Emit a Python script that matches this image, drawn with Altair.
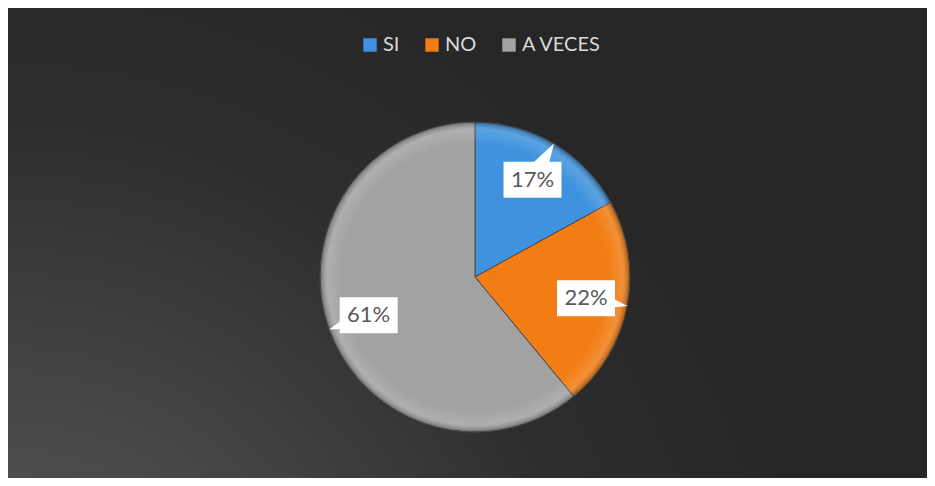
import altair as alt
import pandas as pd

categorias = ["SI", "NO", "A VECES"]
valores = [17, 22, 61]
etiquetas = ["17%", "22%", "61%"]
colores = ["#3f93de", "#f27d15", "#a2a2a2"]

W, H = 919, 470
CX, CY, R, RL = 467, 269, 155, 113
FONT = "Lato"

df = pd.DataFrame({
    "categoria": categorias,
    "valor": valores,
    "etiqueta": etiquetas,
    "orden": list(range(len(categorias))),
})

base = alt.Chart(df)
uno = pd.DataFrame({"k": [0]})

fondo = alt.Chart(uno).mark_rect(
    fill=alt.Gradient(
        gradient="radial",
        stops=[
            alt.GradientStop(color="#5e5e5e", offset=0),
            alt.GradientStop(color="#474747", offset=0.35),
            alt.GradientStop(color="#2e2e2e", offset=0.7),
            alt.GradientStop(color="#262626", offset=1),
        ],
        x1=0, y1=1, r1=0, x2=0, y2=1, r2=0.9,
    )
).encode(x=alt.value(0), x2=alt.value(W), y=alt.value(0), y2=alt.value(H))

pastel = base.mark_arc(radius=R, stroke="#4a4a4a", strokeWidth=1).encode(
    theta=alt.Theta("valor:Q", stack=True),
    order=alt.Order("orden:O"),
    color=alt.Color(
        "categoria:N",
        scale=alt.Scale(domain=categorias, range=colores),
        legend=alt.Legend(
            title=None,
            orient="none",
            legendX=352,
            legendY=27,
            direction="horizontal",
            symbolType="square",
            symbolSize=180,
            symbolStrokeWidth=0,
            labelFont=FONT,
            labelFontSize=20,
            labelColor="#d9d9d9",
            labelOffset=3,
            columnPadding=22,
            padding=0,
        ),
    ),
    x=alt.value(CX),
    y=alt.value(CY),
)

borde = alt.Chart(uno).mark_arc(
    radius=R, theta=0, theta2=6.2832,
    fill=alt.Gradient(
        gradient="radial",
        stops=[
            alt.GradientStop(color="rgba(255,255,255,0)", offset=0),
            alt.GradientStop(color="rgba(255,255,255,0)", offset=0.86),
            alt.GradientStop(color="rgba(255,255,255,0.14)", offset=0.95),
            alt.GradientStop(color="rgba(0,0,0,0.35)", offset=1),
        ],
        x1=0.5, y1=0.5, r1=0, x2=0.5, y2=0.5, r2=0.5,
    ),
).encode(x=alt.value(CX), y=alt.value(CY))

pos = base.transform_joinaggregate(total="sum(valor)").transform_window(
    acum="sum(valor)", sort=[alt.SortField("orden")], frame=[None, 0]
).transform_calculate(
    ang="(datum.acum - datum.valor/2) / datum.total * 2 * PI",
    grados="(datum.acum - datum.valor/2) / datum.total * 360",
).transform_calculate(
    px=f"{CX} + {RL} * sin(datum.ang)",
    py=f"{CY} - {RL} * cos(datum.ang)",
).transform_calculate(
    bx1="datum.px - 29", bx2="datum.px + 29",
    by1="datum.py - 18", by2="datum.py + 18",
)

cola = pos.mark_point(
    shape="M -0.3 0 L 0 -1 L 0.3 0 Z", filled=True, fill="white", opacity=1, strokeWidth=0
).encode(
    x=alt.X("px:Q", scale=None),
    y=alt.Y("py:Q", scale=None),
    angle=alt.Angle("grados:Q", scale=None),
    size=alt.value(7056),
)

caja = pos.mark_rect(fill="white").encode(
    x=alt.X("bx1:Q", scale=None), x2="bx2:Q",
    y=alt.Y("by1:Q", scale=None), y2="by2:Q",
)

texto = pos.mark_text(font=FONT, fontSize=22, color="#595959", baseline="middle", align="center").encode(
    x=alt.X("px:Q", scale=None),
    y=alt.Y("py:Q", scale=None),
    text="etiqueta:N",
)

chart = alt.layer(fondo, pastel, borde, cola, caja, texto).properties(
    width=W, height=H, autosize=alt.AutoSizeParams(type="none"), padding=0,
    background="white",
).configure_view(strokeWidth=0)

chart.save("out.html", embed_options={"renderer": "svg", "actions": False})
